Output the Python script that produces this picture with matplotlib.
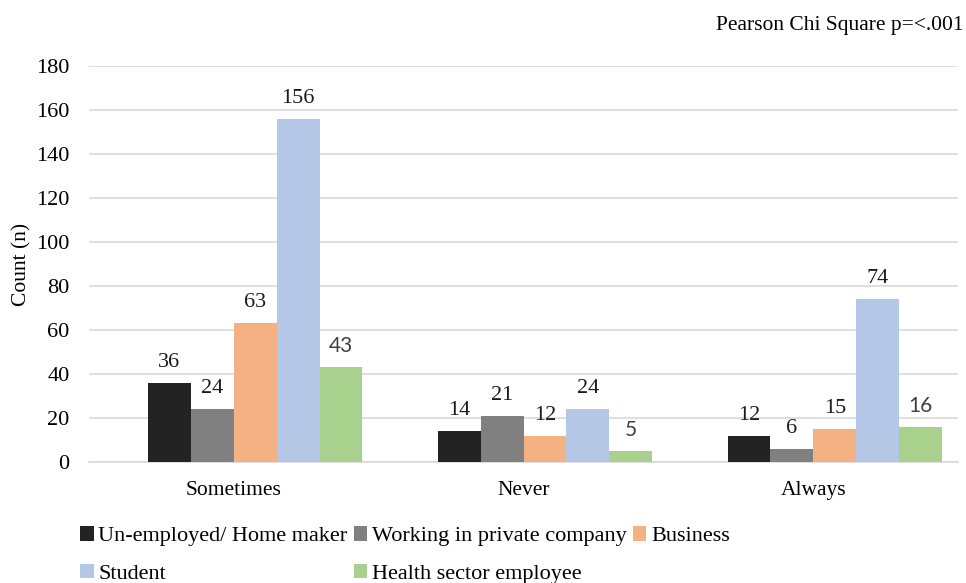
import matplotlib
matplotlib.use("Agg")
import matplotlib.pyplot as plt
import numpy as np

categories = ["Sometimes", "Never", "Always"]
series_names = ["Un-employed/ Home maker", "Working in private company", "Business",
                "Student", "Health sector employee"]
unemployed = [36, 14, 12]
private = [24, 21, 6]
business = [63, 12, 15]
student = [156, 24, 74]
health = [43, 5, 16]
yticks = [0, 20, 40, 60, 80, 100, 120, 140, 160, 180]

colors = ["#232323", "#808080", "#F4B183", "#B4C7E7", "#A9D18E"]
series = [unemployed, private, business, student, health]

plt.rcParams['font.family'] = ['Liberation Serif', 'DejaVu Serif']

fig = plt.figure(figsize=(9.66, 5.83), dpi=100)
ax = fig.add_axes([0.092, 0.2075, 0.9, 0.6795])

x = np.arange(len(categories))
w = 0.148
for i, (vals, c, name) in enumerate(zip(series, colors, series_names)):
    pos = x + (i - 1.5) * w
    bars = ax.bar(pos, vals, w, color=c, label=name, zorder=3)
    for b, v in zip(bars, vals):
        if i == 4:
            ax.text(b.get_x() + b.get_width() / 2, v + 5, str(v), ha='center', va='bottom',
                    fontsize=15, color='#404040', family=['Lato', 'DejaVu Sans'])
        else:
            ax.text(b.get_x() + b.get_width() / 2, v + 5, str(v), ha='center', va='bottom',
                    fontsize=16, color='#1a1a1a')

ax.set_xlim(-0.5, 2.5)
ax.set_ylim(0, 180)
ax.set_yticks(yticks)
ax.set_yticklabels([str(t) for t in yticks], fontsize=16)
ax.set_xticks(x)
ax.set_xticklabels(categories, fontsize=15.5)
ax.tick_params(axis='x', length=0, pad=14)
ax.tick_params(axis='y', length=0, pad=14)
ax.yaxis.grid(True, color='#d9d9d9', linewidth=1.2, zorder=0)
ax.set_axisbelow(True)
for s in ['top', 'right', 'left']:
    ax.spines[s].set_visible(False)
ax.spines['bottom'].set_color('#d9d9d9')
ax.spines['bottom'].set_linewidth(1.2)
ax.set_ylabel("Count (n)", fontsize=15.5, labelpad=3)

fig.text(0.997, 0.957, "Pearson Chi Square p=<.001", ha='right', va='center', fontsize=15.5)

handles, labels = ax.get_legend_handles_labels()
order = [0, 3, 1, 4, 2]
leg = fig.legend([handles[k] for k in order], [labels[k] for k in order], ncol=3,
                 loc='lower left', bbox_to_anchor=(0.074, -0.017),
                 frameon=False, fontsize=16, handlelength=0.6, handleheight=0.6,
                 handletextpad=0.2, columnspacing=0.3, labelspacing=0.8,
                 borderaxespad=0.0)

fig.savefig("out.png", dpi=100)
